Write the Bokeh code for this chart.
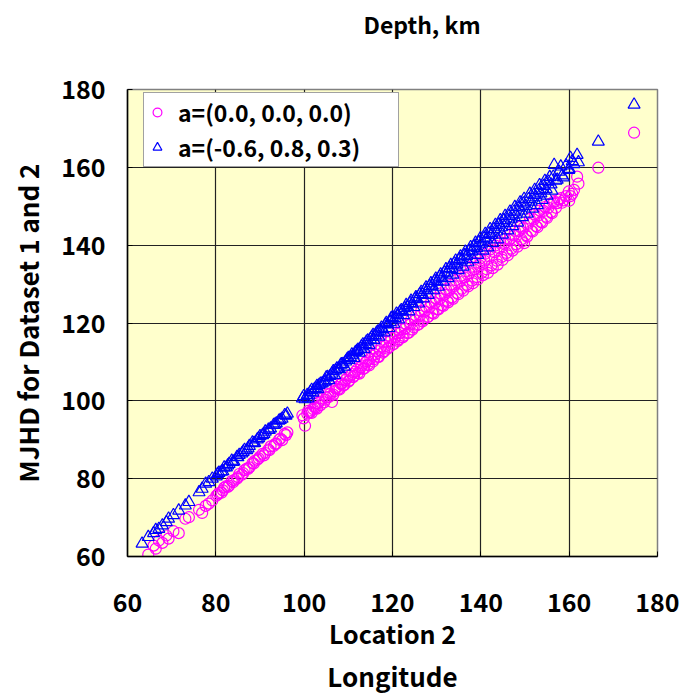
from bokeh.plotting import figure
from bokeh.models import Range1d, FixedTicker, Legend, LegendItem, Title, ColumnDataSource
from bokeh.embed import file_html
from bokeh.resources import INLINE

# Location 2 longitude (shared x values)
x_lon = [
    63.3, 64.7, 65.9, 66.4, 67.1, 67.9, 68.8, 69.3, 70.4, 71.6, 73.1, 73.9, 76.2, 76.9, 77.7, 78.4, 79.2,
    80.1, 80.7, 81.3, 81.9, 82.4, 83.0, 83.6, 84.1, 84.8, 85.3, 85.9, 86.5, 87.0, 87.6, 88.3, 88.8, 89.4,
    90.0, 90.6, 91.2, 91.9, 92.4, 93.1, 93.7, 94.3, 95.0, 95.6, 96.2,
    99.6, 100.2, 100.7, 101.1, 101.4, 102.0, 102.6, 103.1, 103.7, 104.1,
    104.8, 105.3, 105.6, 106.3, 106.9, 107.4, 108.0, 108.5, 109.1, 109.7,
    110.2, 110.8, 111.3, 111.9, 112.5, 113.0, 113.6, 114.1, 114.7, 115.3,
    115.8, 116.4, 116.9, 117.5, 118.1, 118.6, 119.2, 119.7, 120.3, 120.9,
    121.4, 122.0, 122.5, 123.1, 123.7, 124.2, 124.8, 125.3, 125.9, 126.5,
    127.0, 127.6, 128.1, 128.7, 129.3, 129.8, 130.4, 130.9, 131.5, 132.1,
    132.6, 133.2, 133.7, 134.3, 134.9, 135.4, 136.0, 136.5, 137.1, 137.7,
    138.2, 138.8, 139.3, 139.9, 140.5, 141.0, 141.6, 142.1, 142.7, 143.3,
    143.8, 144.4, 144.9, 145.5, 146.1, 146.6, 147.2, 147.7, 148.3, 148.9,
    149.4, 149.8, 150.5, 151.1, 151.7, 152.2, 152.8, 153.3, 153.9, 154.5,
    155.0, 155.6, 156.1, 156.6, 157.3, 158.1, 158.7, 159.9, 160.3, 161.1,
    161.8, 166.6, 174.7,
    80.4, 81.6, 82.7, 83.9, 85.0, 86.2, 87.3, 88.6, 89.7, 90.9,
    92.1, 93.4, 94.6, 95.9, 99.9, 100.9, 101.7, 102.3, 102.9, 103.4,
    104.5, 105.0, 105.9, 106.6, 107.1, 107.7, 108.3, 108.8, 109.4, 110.0,
    110.5, 111.1, 111.6, 112.2, 112.8, 113.3, 113.9, 114.4, 115.0, 115.6,
    116.1, 116.7, 117.2, 117.8, 118.4, 118.9, 119.5, 120.0, 120.6, 121.2,
    121.7, 122.3, 122.8, 123.4, 124.0, 124.5, 125.1, 125.6, 126.2, 126.8,
    127.3, 127.9, 128.4, 129.0, 129.6, 130.1, 130.7, 131.2, 131.8, 132.4,
    132.9, 133.5, 134.0, 134.6, 135.2, 135.7, 136.3, 136.8, 137.4, 138.0,
    138.5, 139.1, 139.6, 140.2, 140.8, 141.3, 141.9, 142.4, 143.0, 143.6,
    144.1, 144.7, 145.2, 145.8, 146.4, 146.9, 147.5, 148.0, 148.6, 149.2,
    149.6, 150.2, 150.8, 151.4, 152.0, 152.5, 153.1, 153.6, 154.2, 154.8,
    155.3, 155.9, 156.4, 157.0, 157.7, 158.4, 159.3, 160.0, 160.7, 162.1,
]

# MJHD, Dataset 1: a=(0.0, 0.0, 0.0)
mjhd_a0 = [
    58.0, 60.5, 62.8, 62.0, 64.1, 63.5, 65.4, 64.6, 66.5, 66.0, 69.7, 70.1, 72.0, 71.2, 73.0, 73.6, 74.4,
    75.6, 76.3, 76.4, 77.7, 78.1, 78.2, 79.4, 79.6, 80.0, 81.2, 81.0, 82.2, 82.6, 82.9, 84.0, 84.6, 84.9,
    85.7, 86.4, 86.6, 87.5, 88.3, 88.4, 89.0, 90.0, 89.9, 91.5, 91.9,
    96.3, 93.6, 96.7, 97.0, 97.1, 97.9, 98.2, 99.4, 98.9, 100.6,
    100.3, 101.7, 101.0, 99.7, 102.5, 103.6, 102.9, 104.5, 104.1, 105.8,
    105.2, 106.9, 106.4, 108.0, 107.0, 109.1, 108.3, 110.2, 109.1, 111.6,
    110.7, 112.8, 111.3, 113.9, 112.7, 115.2, 113.8, 116.2, 114.6, 117.4,
    115.8, 118.5, 116.7, 119.7, 117.5, 120.8, 118.9, 121.8, 119.6, 123.1,
    120.8, 124.2, 121.6, 125.3, 122.4, 126.4, 123.5, 127.6, 124.4, 128.7,
    125.3, 129.8, 126.2, 131.0, 127.4, 132.1, 128.3, 133.3, 129.4, 134.4,
    130.2, 135.5, 131.2, 136.6, 132.3, 137.8, 132.9, 138.9, 134.1, 139.9,
    135.0, 140.8, 136.2, 141.7, 137.4, 142.8, 138.6, 143.7, 139.6, 144.7,
    141.0, 140.5, 142.2, 146.8, 143.5, 147.9, 144.6, 148.9, 145.8, 149.8,
    147.0, 150.6, 148.2, 151.3, 150.8, 152.1, 151.5, 153.8, 152.6, 154.2,
    157.6, 159.9, 168.9,
    75.9, 77.0, 77.9, 79.1, 80.4, 81.4, 82.5, 83.9, 85.2, 86.0,
    87.3, 88.9, 90.3, 91.2, 95.5, 97.4, 96.9, 98.4, 98.0, 99.7,
    99.6, 100.9, 101.8, 101.6, 103.2, 103.0, 104.3, 103.9, 105.4, 104.9,
    106.5, 106.1, 107.5, 107.2, 108.6, 108.2, 109.8, 109.3, 110.8, 110.1,
    111.9, 111.3, 113.0, 112.4, 114.1, 113.4, 115.3, 114.4, 116.3, 115.4,
    117.4, 116.3, 118.5, 117.4, 119.6, 118.3, 120.7, 119.5, 121.8, 120.4,
    122.9, 121.5, 124.0, 122.6, 125.1, 123.5, 126.2, 124.6, 127.3, 125.7,
    128.4, 126.6, 129.5, 127.7, 130.6, 128.8, 131.7, 129.8, 132.8, 130.9,
    133.8, 131.8, 134.9, 132.9, 136.0, 133.8, 137.1, 134.8, 138.2, 136.0,
    139.2, 137.0, 140.3, 138.0, 141.4, 139.1, 142.5, 140.2, 143.6, 141.5,
    144.4, 142.6, 145.5, 143.7, 146.6, 144.9, 147.7, 146.0, 148.8, 147.3,
    149.6, 148.5, 150.9, 149.6, 151.7, 150.9, 152.6, 151.4, 153.2, 155.8,
]

# MJHD, Dataset 2: a=(-0.6, 0.8, 0.3)
mjhd_a1 = [
    63.3, 65.0, 66.0, 66.8, 67.1, 68.0, 68.8, 69.7, 70.6, 71.8, 73.1, 74.0, 76.5, 77.4, 78.7, 79.1, 80.0,
    80.6, 81.5, 81.8, 82.9, 82.9, 83.8, 84.6, 84.4, 85.6, 86.1, 86.5, 87.4, 87.3, 88.4, 89.3, 89.2, 90.1,
    90.9, 91.2, 92.1, 92.6, 92.9, 93.8, 94.2, 94.9, 95.4, 96.3, 96.7,
    100.6, 100.4, 101.5, 101.4, 102.3, 102.1, 103.3, 103.0, 104.4, 104.5,
    105.0, 106.1, 105.3, 107.0, 106.6, 108.3, 108.1, 109.4, 108.8, 110.6,
    110.5, 111.9, 111.0, 112.8, 112.4, 114.0, 113.3, 115.2, 114.3, 116.4,
    115.6, 117.5, 116.5, 118.8, 117.6, 120.0, 118.7, 121.2, 119.8, 122.4,
    120.9, 123.3, 122.0, 124.6, 123.0, 125.7, 124.1, 126.6, 125.0, 128.0,
    126.3, 129.1, 127.2, 130.2, 128.4, 131.4, 129.3, 132.5, 130.6, 133.8,
    131.5, 134.9, 132.4, 136.0, 133.6, 137.1, 134.5, 138.3, 135.6, 139.5,
    136.4, 140.6, 137.5, 141.8, 138.6, 142.9, 139.4, 144.1, 140.6, 145.2,
    141.5, 146.4, 142.7, 147.5, 143.8, 148.6, 144.9, 149.8, 145.8, 151.0,
    147.2, 151.9, 148.1, 153.2, 149.4, 154.2, 150.3, 155.4, 151.6, 156.5,
    152.7, 157.5, 154.0, 160.6, 156.8, 160.2, 157.4, 159.3, 162.4, 160.8,
    163.2, 166.6, 176.1,
    81.2, 81.9, 83.4, 84.3, 85.5, 86.9, 87.8, 89.1, 90.4, 91.5,
    92.5, 93.9, 95.1, 96.2, 101.2, 100.6, 102.8, 102.9, 103.8, 104.1,
    104.9, 106.0, 106.4, 107.6, 107.8, 108.2, 109.3, 109.5, 110.1, 111.0,
    111.2, 111.7, 112.5, 113.1, 113.4, 114.5, 114.6, 115.5, 115.8, 116.9,
    116.8, 117.8, 118.0, 118.4, 119.6, 119.7, 120.3, 121.5, 121.3, 122.1,
    122.9, 123.0, 123.8, 124.2, 125.1, 125.0, 126.2, 126.1, 127.4, 127.3,
    128.5, 128.4, 129.5, 129.6, 130.8, 130.6, 131.9, 131.6, 133.0, 132.9,
    134.1, 133.9, 135.3, 135.0, 136.4, 136.1, 137.4, 137.2, 138.6, 138.4,
    139.7, 139.3, 140.8, 140.4, 141.9, 141.5, 143.0, 142.6, 144.1, 143.5,
    145.3, 144.6, 146.4, 145.7, 147.5, 146.8, 148.6, 147.9, 149.7, 148.9,
    150.7, 150.1, 151.8, 151.2, 152.9, 152.3, 154.0, 153.3, 155.2, 154.4,
    156.3, 155.6, 157.6, 156.6, 158.9, 157.9, 160.5, 159.6, 161.6, 161.3,
]

tick_values = [60, 80, 100, 120, 140, 160, 180]
legend_labels = ["a=(0.0, 0.0, 0.0)", "a=(-0.6, 0.8, 0.3)"]

FONT = "Noto Sans CJK JP"

p = figure(width=687, height=695, output_backend="svg", toolbar_location=None,
           x_range=Range1d(60, 180), y_range=Range1d(60, 180),
           min_border_left=127, min_border_right=30, min_border_top=89, min_border_bottom=139)
p.background_fill_color = "#ffffcc"
p.border_fill_color = "white"
p.outline_line_color = "#808080"
p.outline_line_width = 1.5

src = ColumnDataSource(dict(x=x_lon, a0=mjhd_a0, a1=mjhd_a1))
r0 = p.scatter("x", "a0", source=src, marker="circle", size=11, fill_color=None,
               line_color="#ff00ff", line_width=1.2)
r1 = p.scatter("x", "a1", source=src, marker="triangle", size=12, fill_color=None,
               line_color="#0000ff", line_width=1.2)

for ax in (p.xaxis[0], p.yaxis[0]):
    ax.ticker = FixedTicker(ticks=tick_values)
    ax.axis_line_color = "black"
    ax.axis_line_width = 1.5
    ax.major_tick_in = 5
    ax.major_tick_out = 0
    ax.minor_tick_line_color = None
    ax.major_tick_line_color = "black"
    ax.major_label_text_font = FONT
    ax.major_label_text_font_style = "bold"
    ax.major_label_text_font_size = "25px"
    ax.major_label_text_color = "black"
    ax.axis_label_text_font = FONT
    ax.axis_label_text_font_style = "bold"
    ax.axis_label_text_color = "black"

p.xaxis.major_label_standoff = 36
p.yaxis.major_label_standoff = 22
p.xaxis.axis_label = "Location 2"
p.xaxis.axis_label_text_font_size = "25px"
p.xaxis.axis_label_standoff = 0
p.yaxis.axis_label = "MJHD for Dataset 1 and 2"
p.yaxis.axis_label_text_font_size = "26px"
p.yaxis.axis_label_standoff = 12

p.grid.grid_line_color = "#222222"
p.grid.grid_line_width = 1.2
p.grid.ticker = FixedTicker(ticks=tick_values)

lon_title = Title(text="Longitude", align="center", offset=12, standoff=2,
                  text_font=FONT, text_font_style="bold", text_font_size="26px", text_color="black")
p.add_layout(lon_title, "below")

# spacer (inner, next to the frame) first, then the visible title (outer)
spacer = Title(text=" ", standoff=36, text_font_size="10px", text_color="white")
p.add_layout(spacer, "above")
depth_title = Title(text="Depth, km", align="left", offset=236, standoff=0,
                    text_font=FONT, text_font_style="bold", text_font_size="23px", text_color="black")
p.add_layout(depth_title, "above")

legend = Legend(items=[LegendItem(label=legend_labels[0], renderers=[r0]),
                       LegendItem(label=legend_labels[1], renderers=[r1])],
                location=(16, 389))
legend.label_text_font = FONT
legend.label_text_font_style = "bold"
legend.label_text_font_size = "23px"
legend.label_text_color = "black"
legend.glyph_width = 22
legend.glyph_height = 24
legend.label_height = 24
legend.label_width = 218
legend.label_standoff = 10
legend.spacing = 1
legend.padding = 2
legend.border_line_color = "#444444"
legend.border_line_width = 1
legend.background_fill_color = "white"
legend.background_fill_alpha = 1.0
p.add_layout(legend, "center")

open("out.html", "w").write(file_html(p, INLINE))
